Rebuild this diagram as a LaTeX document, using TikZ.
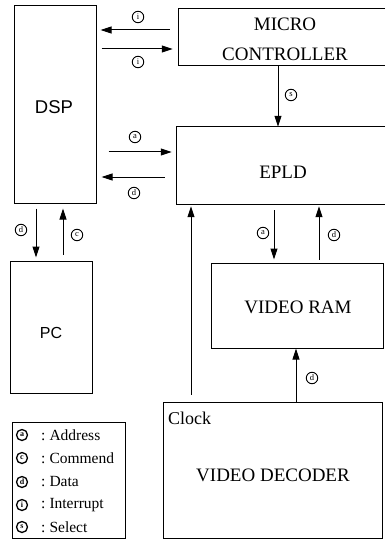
\documentclass[tikz,border=0pt]{standalone}
\usepackage{fontspec}
\setmainfont{Liberation Serif}
\newfontfamily\sansf{Liberation Sans}
\usetikzlibrary{arrows.meta}
\begin{document}
\begin{tikzpicture}[x=1pt,y=-1pt,
  box/.style={draw,line width=1pt,inner sep=0pt},
  openbox/.style={inner sep=0pt},
  arr/.style={line width=1pt,-{Triangle[length=11pt,width=7pt]}},
  circ/.style={circle,draw,line width=0.9pt,inner sep=0pt,minimum size=11.5pt,font=\fontsize{8.5}{8.5}\selectfont},
  lcirc/.style={circle,draw,line width=1.3pt,inner sep=0pt,minimum size=11pt,font=\bfseries\fontsize{8}{8}\selectfont},
  big/.style={font=\fontsize{19}{30}\selectfont,inner sep=0pt,align=center},
  leg/.style={anchor=west,inner sep=0pt,font=\fontsize{15.5}{15.5}\selectfont},
]
\useasboundingbox (0,0) rectangle (385,540);
% boxes
\node[box,minimum width=82pt,minimum height=197pt] (dsp) at (55,104.5) {};
\node[openbox,minimum width=206pt,minimum height=56pt] (mc) at (282,37) {};
\draw[line width=1pt] (mc.north east) -- (mc.north west) -- (mc.south west) -- (mc.south east);
\node[openbox,minimum width=208pt,minimum height=77pt] (epld) at (281,165.5) {};
\draw[line width=1pt] (epld.north east) -- (epld.north west) -- (epld.south west) -- (epld.south east);
\node[box,minimum width=82pt,minimum height=132pt] (pc) at (51,327) {};
\node[box,minimum width=172pt,minimum height=85pt] (vr) at (297,305.5) {};
\node[box,minimum width=219.5pt,minimum height=136.5pt] (vd) at (272.75,470.25) {};
\node[box,minimum width=113pt,minimum height=116pt] (legend) at (68.5,480) {};
% texts
\node[big] (mct) at (285,39) {MICRO\\CONTROLLER};
\node[big] (epldt) at (283,172) {EPLD};
\node[inner sep=0pt,font=\sansf\fontsize{18.5}{20}\selectfont] (dspt) at (54,107) {DSP};
\node[inner sep=0pt,font=\sansf\fontsize{16}{20}\selectfont] (pct) at (51,333) {PC};
\node[big] (vrt) at (298,307.5) {VIDEO RAM};
\node[big] (vdt) at (273,475) {VIDEO DECODER};
\node[anchor=west,inner sep=0pt,font=\fontsize{18}{18}\selectfont] (clk) at (168,418) {Clock};
% legend
\node[lcirc] (lc1) at (22,435) {a};
\node[leg] (lt1) at (41,435) {:\hspace{4pt}Address};
\node[lcirc] (lc2) at (22,458) {c};
\node[leg] (lt2) at (41,458) {:\hspace{4pt}Commend};
\node[lcirc] (lc3) at (22,482) {d};
\node[leg] (lt3) at (41,482) {:\hspace{4pt}Data};
\node[lcirc] (lc4) at (22,505) {i};
\node[leg] (lt4) at (41,505) {:\hspace{4pt}Interrupt};
\node[lcirc] (lc5) at (22,527) {s};
\node[leg] (lt5) at (41,527) {:\hspace{4pt}Select};
% connectors
\draw[arr,shorten <=9pt,shorten >=4pt] (mc.west |- 0,30) -- (dsp.east |- 0,30);
\node[circ] (l1) at (138,17) {i};
\draw[arr,shorten <=5pt,shorten >=6pt] (dsp.east |- 0,49) -- (mc.west |- 0,49);
\node[circ] (l2) at (138,62) {i};
\draw[arr,shorten <=12pt,shorten >=5pt] (dsp.east |- 0,152) -- (epld.west |- 0,152);
\node[circ] (l3) at (135,137) {a};
\draw[arr,shorten <=12pt,shorten >=5pt] (epld.west |- 0,177) -- (dsp.east |- 0,177);
\node[circ] (l4) at (134,193) {d};
\draw[arr] (mc.south -| 278,0) -- (epld.north -| 278,0);
\node[circ] (l5) at (291,95) {s};
\draw[arr,shorten <=5pt,shorten >=3pt] (dsp.south -| 36,0) -- (pc.north -| 36,0);
\node[circ] (l6) at (21,230) {d};
\draw[arr,shorten <=6pt,shorten >=5pt] (pc.north -| 63,0) -- (dsp.south -| 63,0);
\node[circ] (l7) at (77,235) {c};
\draw[arr,shorten <=7pt,shorten >=2pt] (vd.north -| 191,0) -- (epld.south -| 191,0);
\draw[arr,shorten <=6pt,shorten >=3pt] (epld.south -| 274,0) -- (vr.north -| 274,0);
\node[circ] (l8) at (263,233) {a};
\draw[arr,shorten <=3pt,shorten >=2pt] (vr.north -| 319,0) -- (epld.south -| 319,0);
\node[circ] (l9) at (334,235) {d};
\draw[arr] (vd.north -| 296,0) -- (vr.south -| 296,0);
\node[circ] (l10) at (312,378) {d};
\end{tikzpicture}
\end{document}
